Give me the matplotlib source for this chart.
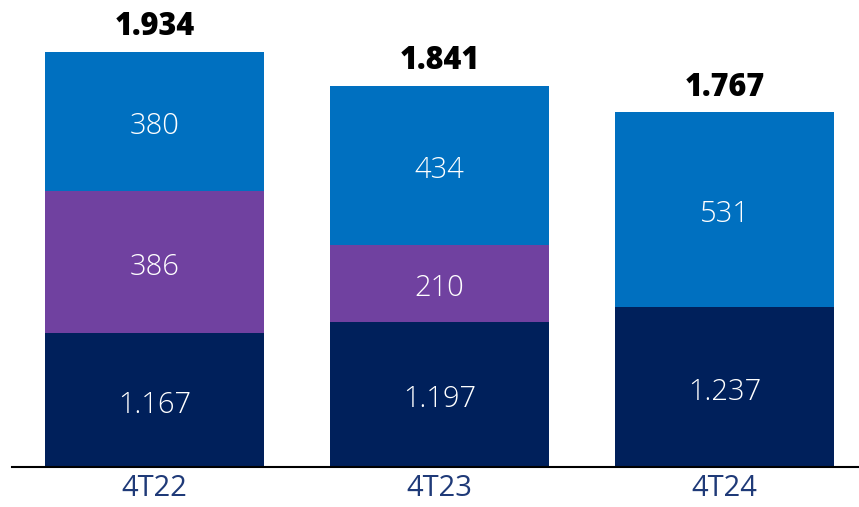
import matplotlib.pyplot as plt
import numpy as np

plt.rcParams['font.family'] = ['Open Sans', 'DejaVu Sans']

# Datos por trimestre
trimestres = ["4T22", "4T23", "4T24"]
base = [1167, 1197, 1237]
medio = [386, 210, 0]
superior = [380, 434, 531]
totales = [1934, 1841, 1767]

c_base = "#00205B"
c_medio = "#7041A0"
c_sup = "#0070C0"

y0 = 800  # el eje no arranca en cero


def fmt(v):
    return f"{v:,}".replace(",", ".")


fig = plt.figure(figsize=(8.59, 5.07), dpi=100)
ax = fig.add_axes([12 / 859, 1 - 467 / 507, 1 - 12 / 859, 467 / 507])

x = np.arange(len(trimestres))
ancho = 0.768
base = np.array(base)
medio = np.array(medio)
superior = np.array(superior)

ax.bar(x, base, ancho, color=c_base)
ax.bar(x, medio, ancho, bottom=base, color=c_medio)
ax.bar(x, superior, ancho, bottom=base + medio, color=c_sup)

ax.set_xlim(-0.5, 2.472)
ax.set_ylim(y0, 2075)

estilo = dict(ha='center', va='center_baseline', color='white', fontsize=21, fontweight='light')
for i in range(len(x)):
    ax.text(x[i], (y0 + base[i]) / 2 - 4, fmt(base[i]), **estilo)
    if medio[i] > 0:
        ax.text(x[i], base[i] + medio[i] / 2 - 4, fmt(medio[i]), **estilo)
    ax.text(x[i], base[i] + medio[i] + superior[i] / 2 - 4, fmt(superior[i]), **estilo)
    ax.text(x[i], totales[i] + 24, fmt(totales[i]), ha='center', va='bottom',
            color='black', fontsize=22, fontweight='heavy')

for s in ['top', 'right', 'left']:
    ax.spines[s].set_visible(False)
ax.spines['bottom'].set_color('black')
ax.spines['bottom'].set_linewidth(1.5)
ax.set_yticks([])
ax.set_xticks(x)
ax.set_xticklabels(trimestres, fontsize=21, color="#1F3A78")
ax.tick_params(axis='x', length=0, pad=5)

fig.savefig("out.png", dpi=100)
